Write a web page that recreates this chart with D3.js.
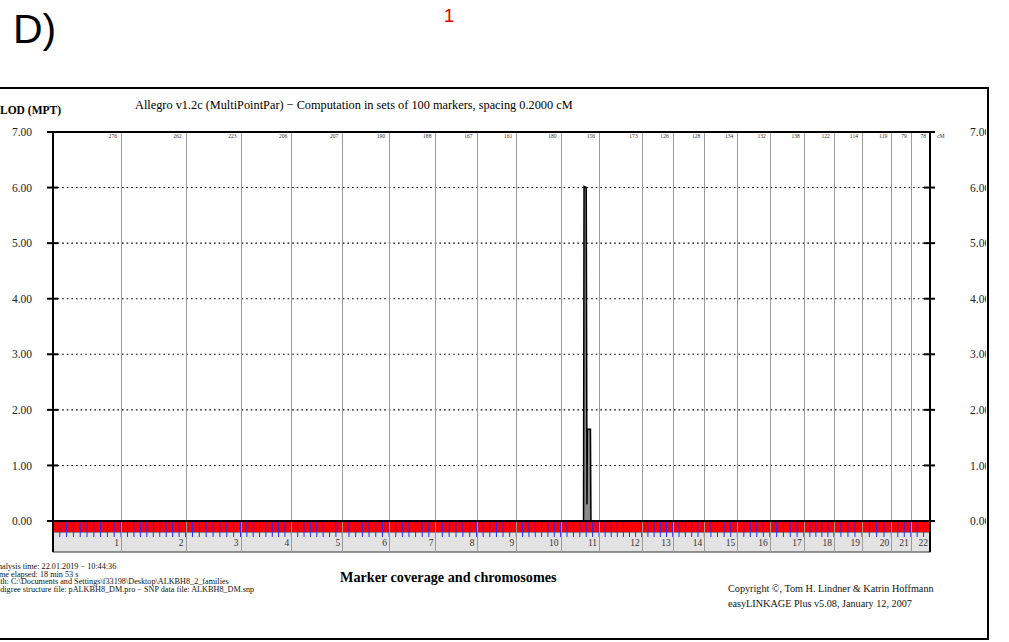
<!DOCTYPE html>
<html>
<head>
<meta charset="utf-8">
<script src="https://cdn.jsdelivr.net/npm/d3@7"></script>
<style>
  html, body { margin: 0; padding: 0; background: #fff; }
  svg { display: block; }
  .serif { font-family: "Liberation Serif", "Times New Roman", serif; }
</style>
</head>
<body>
<svg id="chart" width="1009" height="642"></svg>
<script>
// Chromosomes and their genetic lengths (cM), as printed along the top edge
const chromosomes = ["1","2","3","4","5","6","7","8","9","10","11","12","13","14","15","16","17","18","19","20","21","22"];
const chromLengthsCM = [276,262,223,206,207,190,188,167,161,180,156,173,126,128,134,132,138,122,114,119,79,78];
// Number of 100-marker computation sets per chromosome (blue ticks)
const markerSetCounts = [10,10,8,8,8,7,7,6,6,7,6,7,5,5,5,5,5,5,4,4,3,3];

// Multipoint LOD score: chromosome, position within chromosome (cM), LOD
const lodChrom = ["1","11","11","11","11","11","11","11","11","11","22"];
const lodPosCM = [0,0,93,95,104,107,108.5,121,123,156,78];
const lodValue = [0,0,0,6.02,6.0,0.3,1.65,1.65,0,0,0];

const lodTicks = [0,1,2,3,4,5,6,7];
const gridLevels = [1,2,3,4,5,6];

const titleText = "Allegro v1.2c (MultiPointPar) \u2212 Computation in sets of 100 markers, spacing 0.2000 cM";
const yLabel = "LOD (MPT)";
const xTitle = "Marker coverage and chromosomes";
const infoLines = [
  "Analysis time: 22.01.2019 \u2212 10:44:36",
  "Time elapsed:  18 min 53 s",
  "Path: C:\\Documents and Settings\\f33198\\Desktop\\ALKBH8_2_families",
  "Pedigree structure file: pALKBH8_DM.pro \u2212 SNP data file: ALKBH8_DM.snp"
];
const creditLines = [
  "Copyright \u00a9, Tom H. Lindner & Katrin Hoffmann",
  "easyLINKAGE Plus v5.08, January 12, 2007"
];
const panelLabel = "D)";
const panelNumber = "1";

// ---- layout ----
const svg = d3.select("#chart");
const plot = { left: 53, right: 930, top: 132, zero: 521 };
const strip = { redTop: 522, redBottom: 532, grayBottom: 552 };

// cumulative chromosome offsets
const offsets = [];
let acc = 0;
chromLengthsCM.forEach(l => { offsets.push(acc); acc += l; });
const totalCM = acc;
const chromIndex = c => chromosomes.indexOf(c);

const x = d3.scaleLinear().domain([0, totalCM]).range([plot.left, plot.right]);
const y = d3.scaleLinear().domain([0, 7]).range([plot.zero, plot.top]);

// outer frame
svg.append("path")
  .attr("d", `M -5 88 H 988 V 639 H -5`)
  .attr("fill", "none").attr("stroke", "#000").attr("stroke-width", 2);

// panel label and number
svg.append("text").attr("x", 13).attr("y", 43)
  .attr("font-family", "Liberation Sans, Arial, sans-serif").attr("font-size", 41)
  .attr("fill", "#000").text(panelLabel);
svg.append("text").attr("x", 449).attr("y", 22).attr("text-anchor", "middle")
  .attr("font-family", "Liberation Sans, Arial, sans-serif").attr("font-size", 19)
  .attr("fill", "#e00000").text(panelNumber);

// titles
svg.append("text").attr("class", "serif").attr("x", 135).attr("y", 109)
  .attr("font-size", 12.3).attr("fill", "#000").text(titleText);
svg.append("text").attr("class", "serif").attr("x", 0).attr("y", 114)
  .attr("font-size", 11.5).attr("font-weight", "bold").attr("fill", "#000").text(yLabel);

// gray chromosome band below the marker strip
svg.append("rect")
  .attr("x", plot.left).attr("y", strip.redBottom)
  .attr("width", plot.right - plot.left).attr("height", strip.grayBottom - strip.redBottom)
  .attr("fill", "#e3e3e3").attr("stroke", "#333").attr("stroke-width", 1);

// red marker coverage strip
svg.append("rect")
  .attr("x", plot.left).attr("y", strip.redTop)
  .attr("width", plot.right - plot.left).attr("height", strip.redBottom - strip.redTop)
  .attr("fill", "#ff0000");

// blue ticks for marker sets
const setTicks = [];
chromosomes.forEach((c, i) => {
  const n = markerSetCounts[i];
  for (let k = 1; k <= n; k++) setTicks.push(offsets[i] + chromLengthsCM[i] * k / n);
});
svg.append("g").selectAll("line").data(setTicks).join("line")
  .attr("x1", d => x(d)).attr("x2", d => x(d))
  .attr("y1", strip.redTop).attr("y2", 537)
  .attr("stroke", "#2b2bff").attr("stroke-width", 1);

// horizontal dotted grid
svg.append("g").selectAll("line").data(gridLevels).join("line")
  .attr("x1", plot.left).attr("x2", plot.right)
  .attr("y1", d => y(d)).attr("y2", d => y(d))
  .attr("stroke", "#000").attr("stroke-width", 1.1)
  .attr("stroke-dasharray", "1.6,3");

// chromosome boundary lines
const bounds = chromosomes.map((c, i) => offsets[i] + chromLengthsCM[i]);
svg.append("g").selectAll("line").data(bounds.slice(0, -1)).join("line")
  .attr("x1", d => Math.round(x(d)) + 0.5).attr("x2", d => Math.round(x(d)) + 0.5)
  .attr("y1", plot.top).attr("y2", strip.grayBottom)
  .attr("stroke", "#9a9a9a").attr("stroke-width", 1);

// chromosome lengths along the top
svg.append("g").selectAll("text").data(chromosomes).join("text")
  .attr("class", "serif")
  .attr("x", (c, i) => x(bounds[i]) - 4).attr("y", 138)
  .attr("text-anchor", "end").attr("font-size", 5.6).attr("fill", "#333")
  .text((c, i) => chromLengthsCM[i]);
svg.append("text").attr("class", "serif").attr("x", 937).attr("y", 138)
  .attr("font-size", 5.8).attr("fill", "#333").text("cM");

// chromosome numbers in the gray band
svg.append("g").selectAll("text").data(chromosomes).join("text")
  .attr("class", "serif")
  .attr("x", (c, i) => x(bounds[i]) - 2).attr("y", 545.5)
  .attr("text-anchor", "end").attr("font-size", 9.5).attr("fill", "#333")
  .text(c => c);

// LOD curve
const lodPoints = lodChrom.map((c, i) => ({ pos: offsets[chromIndex(c)] + lodPosCM[i], lod: lodValue[i] }));
svg.append("path").datum(lodPoints)
  .attr("d", d3.area().x(d => x(d.pos)).y0(y(0)).y1(d => y(d.lod)))
  .attr("fill", "#8a8a8a");
svg.append("path").datum(lodPoints)
  .attr("d", d3.line().x(d => x(d.pos)).y(d => y(d.lod)))
  .attr("fill", "none").attr("stroke", "#000").attr("stroke-width", 1.5)
  .attr("stroke-linejoin", "miter");

// frame of the plot: top, zero line, left and right axes
const frame = svg.append("g").attr("stroke", "#000").attr("stroke-width", 2).attr("fill", "none");
frame.append("line").attr("x1", 48).attr("x2", 935).attr("y1", y(7)).attr("y2", y(7));
frame.append("line").attr("x1", 48).attr("x2", 935).attr("y1", y(0)).attr("y2", y(0));
frame.append("line").attr("x1", plot.left).attr("x2", plot.left).attr("y1", y(7) - 1).attr("y2", strip.grayBottom);
frame.append("line").attr("x1", plot.right).attr("x2", plot.right).attr("y1", y(7) - 1).attr("y2", strip.grayBottom);

// crossing tick marks on both axes
[plot.left, plot.right].forEach(px => {
  svg.append("g").selectAll("line").data(lodTicks).join("line")
    .attr("x1", px - 6).attr("x2", px + 5)
    .attr("y1", d => y(d)).attr("y2", d => y(d))
    .attr("stroke", "#000").attr("stroke-width", 2);
});

// left axis labels
const fmt = d3.format(".2f");
const leftAxis = svg.append("g").attr("class", "serif")
  .attr("transform", `translate(${plot.left},0)`)
  .call(d3.axisLeft(y).tickValues(lodTicks).tickFormat(fmt).tickSize(0).tickPadding(21));
leftAxis.select(".domain").remove();
leftAxis.selectAll("text").attr("font-size", 11.5).attr("font-family", "Liberation Serif, serif").attr("fill", "#222");

// right axis labels (clipped by the outer frame)
svg.append("clipPath").attr("id", "rclip").append("rect")
  .attr("x", 940).attr("y", 90).attr("width", 46).attr("height", 540);
const rightAxis = svg.append("g").attr("clip-path", "url(#rclip)")
  .append("g").attr("transform", `translate(${plot.right},0)`)
  .call(d3.axisRight(y).tickValues(lodTicks).tickFormat(fmt).tickSize(0).tickPadding(40));
rightAxis.select(".domain").remove();
rightAxis.selectAll("text").attr("font-size", 11.5).attr("font-family", "Liberation Serif, serif").attr("fill", "#222");

// bottom texts
svg.append("text").attr("class", "serif").attr("x", 340).attr("y", 582)
  .attr("font-size", 14.2).attr("font-weight", "bold").attr("fill", "#000").text(xTitle);

svg.append("g").selectAll("text").data(infoLines).join("text")
  .attr("class", "serif")
  .attr("x", -8).attr("y", (d, i) => 569 + i * 7.6)
  .attr("font-size", 8.2).attr("fill", "#111").text(d => d);

svg.append("g").selectAll("text").data(creditLines).join("text")
  .attr("class", "serif")
  .attr("x", 728).attr("y", (d, i) => 592 + i * 14.5)
  .attr("font-size", 10.2).attr("fill", "#111").text(d => d);
</script>
</body>
</html>
